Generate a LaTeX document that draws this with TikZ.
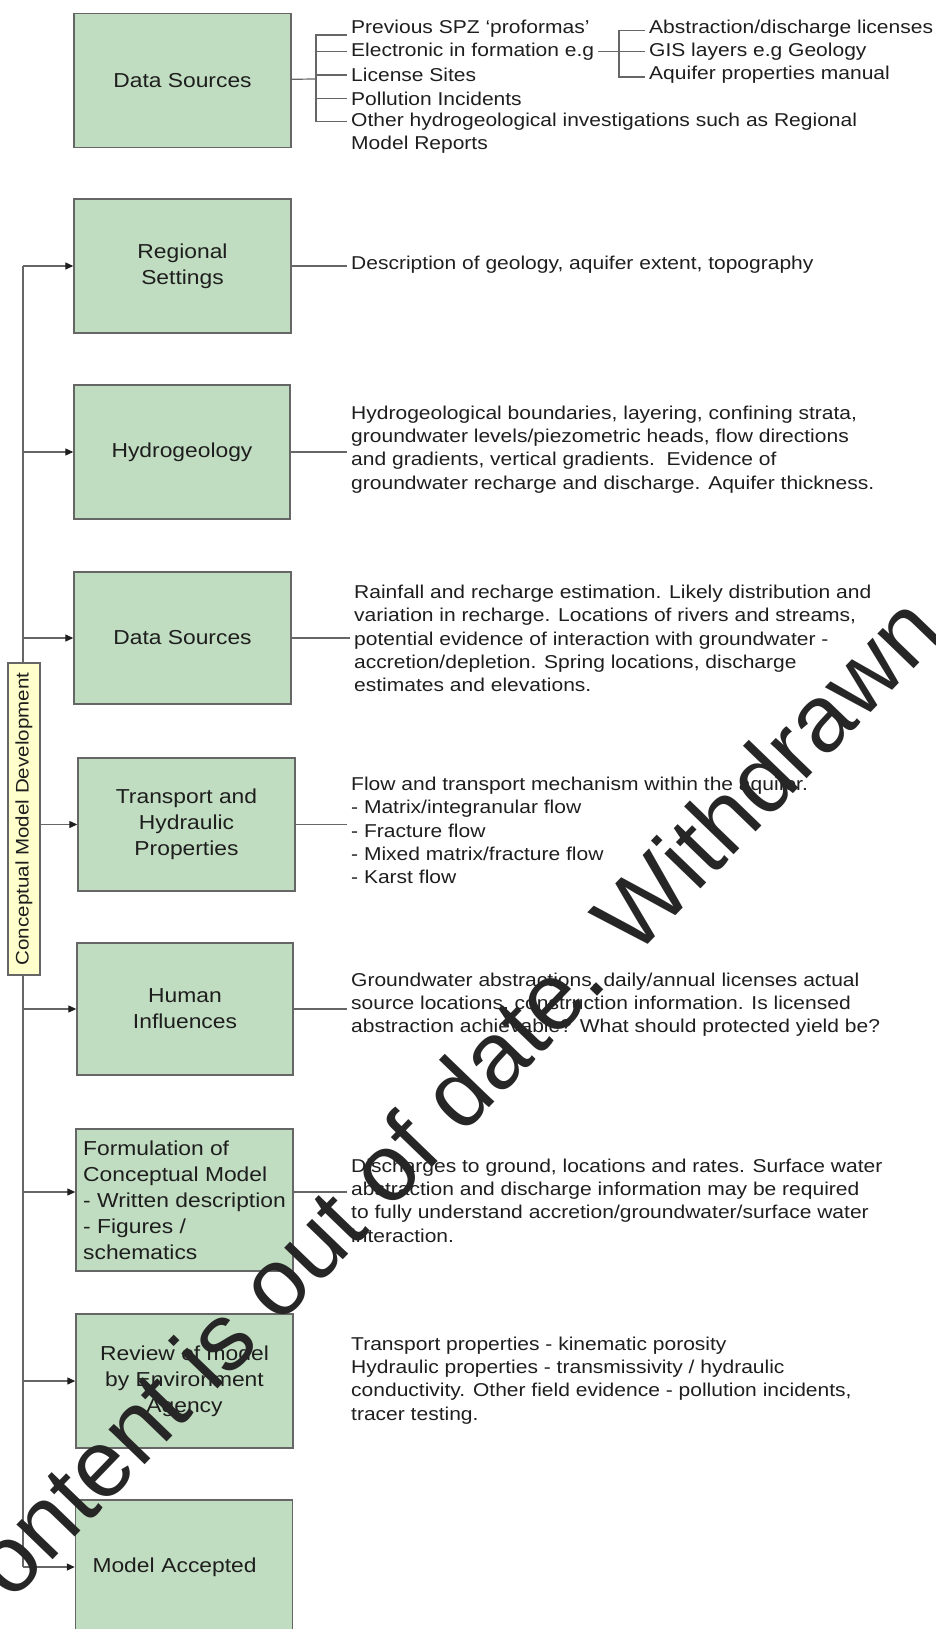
\documentclass[tikz,border=0pt]{standalone}
\usepackage{fontspec}
\setmainfont{Liberation Sans}[FakeStretch=1.13]
\newfontfamily\markfont{Liberation Sans}
\usetikzlibrary{arrows.meta,positioning}
\definecolor{stagefill}{RGB}{193,221,193}
\definecolor{tagfill}{RGB}{255,255,204}
\definecolor{wire}{RGB}{102,102,102}
\definecolor{ink}{RGB}{30,30,30}

\begin{document}
\begin{tikzpicture}[x=1pt,y=-1pt]
\tikzstyle{stage}=[draw=wire,fill=stagefill,line width=1.4pt,minimum width=217pt,minimum height=134pt,align=center,text=ink,font=\fontsize{20.2}{26}\selectfont]
\tikzstyle{note}=[anchor=west,inner xsep=4pt,inner ysep=0pt,align=left,text=ink,font=\fontsize{18.6}{23.3}\selectfont]
\tikzstyle{link}=[draw=wire,line width=1.2pt]
\tikzstyle{arrow}=[link,-{Triangle[length=8pt,width=7pt,color=ink]}]
\tikzstyle{tag}=[draw=wire,fill=tagfill,line width=1.2pt,rotate=90,minimum width=312pt,minimum height=32pt,inner sep=0pt,text=ink,font=\fontsize{18.2}{22}\selectfont]
\useasboundingbox (0,0) rectangle (936,1629);
\clip (0,0) rectangle (936,1629);
% the stages
\node [stage] at (182.5,80.5) (src) {Data Sources};
\node [stage] at (182.5,266) (reg) {Regional\\Settings};
\node [stage,minimum width=216pt] at (182,452) (hyd) {Hydrogeology};
\node [stage,minimum height=132pt] at (182.5,638) (dat) {Data Sources};
\node [stage,minimum height=133pt] at (186.5,824.5) (trn) {Transport and\\Hydraulic\\Properties};
\node [stage,minimum width=216pt,minimum height=132pt] at (185,1009) (hum) {Human\\Influences};
\node [stage,minimum height=142pt,align=left] at (184.5,1200) (frm) {Formulation of\\Conceptual Model\\- Written description\\- Figures /\\schematics};
\node [stage] at (184.5,1381) (rev) {Review of model\\by Environment\\Agency};
\node [stage,minimum width=216pt,align=left,text width=183pt,inner xsep=17pt] at (184,1567) (acc) {Model Accepted};
% what the first stage draws on
\node [note] at (347,28.5) (s1) {Previous SPZ `proformas'};
\node [note] at (347,51.8) (s2) {Electronic in formation e.g};
\node [note] at (347,75.1) (s3) {License Sites};
\node [note] at (347,98.4) (s4) {Pollution Incidents};
\node [note] at (347,133.4) (s5) {Other hydrogeological investigations such as Regional\\Model Reports};
\node [note] at (645,28.5) (t1) {Abstraction/discharge licenses};
\node [note] at (645,51.8) (t2) {GIS layers e.g Geology};
\node [note] at (645,75.1) (t3) {Aquifer properties manual};
\coordinate (fork) at (316,79);
\coordinate (subfork) at (619,0);
\coordinate (s1tick) at ([yshift=-6.5pt]s1.west);
\coordinate (s5tick) at ([yshift=12pt]s5.west);
\coordinate (t1tick) at ([yshift=-2pt]t1.west);
\coordinate (t3tick) at ([yshift=-2pt]t3.west);
\draw [link] (src) -- (fork);
\draw [link] (s1tick) -| (fork |- s5tick) -- (s5tick);
\draw [link] (fork |- s2.west) -- (s2.west);
\draw [link] (fork |- s3.west) -- (s3.west);
\draw [link] (fork |- s4.west) -- (s4.west);
\draw [link] (s2.east) -- (s2.east -| subfork);
\draw [link] (t1tick) -| (subfork |- t3tick) -- (t3tick);
\draw [link] (subfork |- t2.west) -- (t2.west);
% descriptions
\node [note] at (347,264.5) (regnote) {Description of geology, aquifer extent, topography};
\node [note] at (347,449.5) (hydnote) {Hydrogeological boundaries, layering, confining strata,\\groundwater levels/piezometric heads, flow directions\\and gradients, vertical gradients.\ \ Evidence of\\groundwater recharge and discharge. Aquifer thickness.};
\node [note] at (350,638.5) (datnote) {Rainfall and recharge estimation. Likely distribution and\\variation in recharge. Locations of rivers and streams,\\potential evidence of interaction with groundwater -\\accretion/depletion. Spring locations, discharge\\estimates and elevations.};
\node [note] at (347,830.5) (trnnote) {Flow and transport mechanism within the aquifer.\\- Matrix/integranular flow\\- Fracture flow\\- Mixed matrix/fracture flow\\- Karst flow};
\node [note] at (347,1004.5) (humnote) {Groundwater abstractions, daily/annual licenses actual\\source locations, construction information. Is licensed\\abstraction achievable? What should protected yield be?};
\node [note] at (347,1200.5) (frmnote) {Discharges to ground, locations and rates. Surface water\\abstraction and discharge information may be required\\to fully understand accretion/groundwater/surface water\\interaction.};
\node [note] at (347,1380.5) (revnote) {Transport properties - kinematic porosity\\Hydraulic properties - transmissivity / hydraulic\\conductivity. Other field evidence - pollution incidents,\\tracer testing.};
\draw [link] (reg) -- (reg -| regnote.west);
\draw [link] (hyd) -- (hyd -| hydnote.west);
\draw [link] (dat) -- (dat -| datnote.west);
\draw [link] (trn) -- (trn -| trnnote.west);
\draw [link] (hum) -- (hum -| humnote.west);
\draw [link] ([yshift=8pt]frm.east) -- ([yshift=8pt]frm.east -| frmnote.west);
% the trunk on the left
\coordinate (trunk) at (23,0);
\draw [link] (trunk |- reg) -- (trunk |- acc);
\draw [arrow] (trunk |- reg) -- (reg);
\draw [arrow] (trunk |- hyd) -- (hyd);
\draw [arrow] (trunk |- dat) -- (dat);
\draw [arrow] (trunk |- trn) -- (trn);
\draw [arrow] (trunk |- hum) -- (hum);
\draw [arrow] ([yshift=8pt]frm.west -| trunk) -- ([yshift=8pt]frm.west);
\draw [arrow] (trunk |- rev) -- (rev);
\draw [arrow] (trunk |- acc) -- (acc);
\node [tag] at (24,819) (cmd) {Conceptual Model Development};
% stamp across the page
\node [font=\markfont\fontsize{95}{95}\selectfont,text=black!85,rotate=46,anchor=base west,inner sep=0pt] at (-36,1652) (stamp) {Content is out of date. Withdrawn};
\end{tikzpicture}
\end{document}
